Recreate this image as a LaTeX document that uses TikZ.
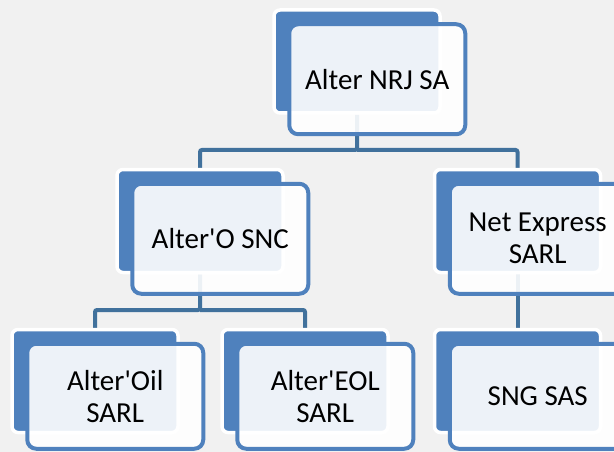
\documentclass[tikz,border=0pt]{standalone}
\usepackage{fontspec}
\setmainfont{Carlito}
\usetikzlibrary{positioning}
\definecolor{boxblue}{HTML}{4F81BD}
\definecolor{linkblue}{HTML}{41719C}
\definecolor{bggray}{HTML}{F1F1F1}
\pgfdeclarelayer{paper}
\pgfdeclarelayer{wires}
\pgfsetlayers{paper,wires,main}

\begin{document}
\begin{tikzpicture}[x=1pt, y=-1pt,
    back/.style={draw=white, line width=3.5pt, fill=boxblue, rounded corners=6pt,
        minimum width=166pt, minimum height=103pt},
    front/.style={draw=boxblue, line width=4pt, fill=white, fill opacity=0.9, text opacity=1,
        rounded corners=9pt, minimum width=176pt, minimum height=110pt, align=center,
        font=\fontsize{29}{32}\selectfont, below right=14pt and 15pt of #1.north west},
    low/.style={minimum height=105pt},
    link/.style={draw=linkblue, line width=4pt, rounded corners=2pt}]
    \useasboundingbox (0,0) rectangle (614,452);
    \clip (0,0) rectangle (614,452);
    \begin{pgfonlayer}{paper}
        \fill[bggray] (0,0) rectangle (614,452);
    \end{pgfonlayer}

    % back boxes
    \node[back] (nrj) at (357,61.5) {};
    \node[back] (alto) at (200,221) {};
    \node[back] (netx) at (517.5,221) {};
    \node[back] (oil) at (95,381) {};
    \node[back] (eol) at (305,381) {};
    \node[back] (sng) at (517.5,381) {};

    % front boxes
    \node[front=nrj] (nrjf) {Alter NRJ SA};
    \node[front=alto] (altof) {Alter\textquotesingle O SNC};
    \node[front=netx] (netxf) {Net Express\\SARL};
    \node[front=oil, low] (oilf) {Alter\textquotesingle Oil\\SARL};
    \node[front=eol, low] (eolf) {Alter\textquotesingle EOL\\SARL};
    \node[front=sng, low] (sngf) {SNG SAS};

    \coordinate (bus1) at (0,150);
    \coordinate (bus2) at (0,310);
    \begin{pgfonlayer}{wires}
        \draw[link] (nrj.south) -- (nrj.south |- bus1) -| (alto.north);
        \draw[link] (nrj.south |- bus1) -| (netx.north);
        \draw[link] (alto.south) -- (alto.south |- bus2) -| (oil.north);
        \draw[link] (alto.south |- bus2) -| (eol.north);
        \draw[link] (netx.south) -- (sng.north);
    \end{pgfonlayer}
\end{tikzpicture}
\end{document}
